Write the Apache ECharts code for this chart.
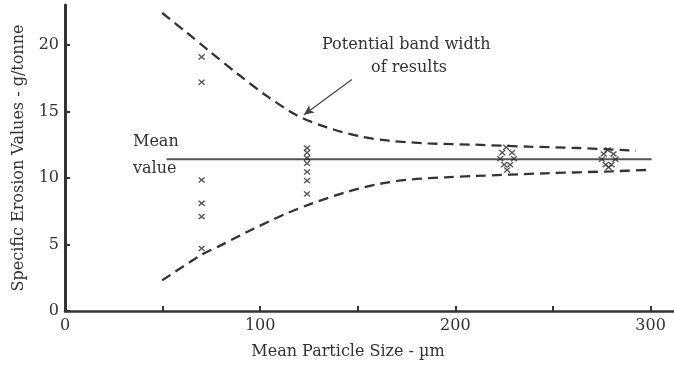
<!DOCTYPE html>
<html>
<head>
<meta charset="utf-8">
<script src="https://cdn.jsdelivr.net/npm/echarts@6/dist/echarts.min.js"></script>
<style>
html,body{margin:0;padding:0;background:#fff;}
#chart{width:674px;height:365px;}
</style>
</head>
<body>
<div id="chart"></div>
<script>
// Scatter measurements (x = mean particle size, y = specific erosion)
const points70 = [[70, 19.1], [70, 17.2], [70, 9.85], [70, 8.1], [70, 7.1], [70, 4.7]];
const points124 = [[124, 12.25], [124, 11.9], [124, 11.5], [124, 11.1], [124, 10.45], [124, 9.8], [124, 8.8]];
const points226 = [[226, 12.3], [224, 11.9], [229, 11.9], [223, 11.45], [230, 11.45], [225, 11.0], [228, 11.0], [226.5, 10.6]];
const points279 = [[278, 12.1], [276, 11.8], [281, 11.8], [275, 11.4], [282, 11.4], [277, 11.0], [280, 11.0], [278.5, 10.8]];
// Mean value line
const meanValue = 11.4;
const meanRange = [52, 300.5];
// Potential band width (dashed envelopes)
const upperBand = [[49.8, 22.4], [62.6, 20.9], [73.8, 19.55], [88.2, 17.85], [103.5, 16.15], [118.9, 14.7], [134.2, 13.8], [152, 13.1], [166, 12.8], [186, 12.6], [210, 12.5], [238, 12.35], [263, 12.25], [292.5, 12.05]];
const lowerBand = [[49.8, 2.3], [69.7, 4.2], [80, 4.95], [96.9, 6.2], [113.8, 7.35], [126, 8.05], [144.4, 8.95], [161, 9.55], [178, 9.9], [195, 10.05], [210, 10.15], [246, 10.35], [280, 10.5], [298, 10.6]];
// Annotation arrow (from text to upper band)
const arrowFrom = [147, 17.4];
const arrowTo = [122.4, 14.75];
// Axis ticks
const xTicks = [0, 100, 200, 300];
const yTicks = [0, 5, 10, 15, 20];

const FONT = 'DejaVu Serif';
const INK = '#333';
const crossPath = 'path://M0,1.5L1.5,0L5,3.5L8.5,0L10,1.5L6.5,5L10,8.5L8.5,10L5,6.5L1.5,10L0,8.5L3.5,5Z';

function scatterSeries(d) {
  return {
    type: 'scatter', data: d, symbol: crossPath, symbolSize: [7, 6],
    itemStyle: { color: '#2a2a2a' }, silent: true, z: 4
  };
}

const chart = echarts.init(document.getElementById('chart'));
chart.setOption({
  animation: false,
  backgroundColor: '#fff',
  grid: { left: 65, right: 0, top: 5, bottom: 54 },
  xAxis: {
    type: 'value', min: 0, max: 312, interval: 50,
    axisLine: { show: true, onZero: false, lineStyle: { color: INK, width: 2.5 } },
    axisTick: { show: true, inside: true, length: 5, lineStyle: { color: INK, width: 2 } },
    axisLabel: {
      fontFamily: FONT, fontSize: 16, color: INK, margin: 7, showMaxLabel: false,
      formatter: v => (xTicks.indexOf(v) >= 0 ? String(v) : '')
    },
    splitLine: { show: false }
  },
  yAxis: {
    type: 'value', min: 0, max: 23, interval: 5,
    name: 'Specific Erosion Values - g/tonne', nameLocation: 'middle', nameGap: 38,
    nameTextStyle: { fontFamily: FONT, fontSize: 16, color: INK },
    axisLine: { show: true, onZero: false, lineStyle: { color: INK, width: 3 } },
    axisTick: { show: true, inside: true, length: 5, lineStyle: { color: INK, width: 2 } },
    axisLabel: {
      fontFamily: FONT, fontSize: 16, color: INK, margin: 6, showMaxLabel: false,
      formatter: v => (yTicks.indexOf(v) >= 0 ? String(v) : '')
    },
    splitLine: { show: false }
  },
  series: [
    {
      type: 'line', data: upperBand, smooth: 0.3, showSymbol: false, silent: true,
      lineStyle: { color: INK, width: 2.3, type: [10, 6] }, z: 3
    },
    {
      type: 'line', data: lowerBand, smooth: 0.3, showSymbol: false, silent: true,
      lineStyle: { color: INK, width: 2.3, type: [10, 6] }, z: 3
    },
    {
      type: 'line', data: [[meanRange[0], meanValue], [meanRange[1], meanValue]],
      showSymbol: false, silent: true,
      lineStyle: { color: '#555', width: 2 }, z: 2,
      markLine: {
        silent: true, symbol: ['none', 'arrow'], symbolSize: [7, 10],
        lineStyle: { color: '#444', width: 1.2, type: 'solid' },
        label: { show: false },
        data: [[{ coord: arrowFrom }, { coord: arrowTo }]]
      }
    },
    scatterSeries(points70),
    scatterSeries(points124),
    scatterSeries(points226),
    scatterSeries(points279)
  ],
  graphic: [
    { type: 'text', left: 322, top: 37, style: { text: 'Potential band width', font: '16px "DejaVu Serif"', fill: INK } },
    { type: 'text', left: 371, top: 60, style: { text: 'of results', font: '16px "DejaVu Serif"', fill: INK } },
    { type: 'text', left: 133, top: 134, style: { text: 'Mean', font: '16px "DejaVu Serif"', fill: INK } },
    { type: 'text', left: 133, top: 161, style: { text: 'value', font: '16px "DejaVu Serif"', fill: INK } },
    { type: 'text', x: 348, y: 352, style: { text: 'Mean Particle Size - µm', font: '16px "DejaVu Serif"', fill: INK, align: 'center', verticalAlign: 'middle' } }
  ]
});
</script>
</body>
</html>
